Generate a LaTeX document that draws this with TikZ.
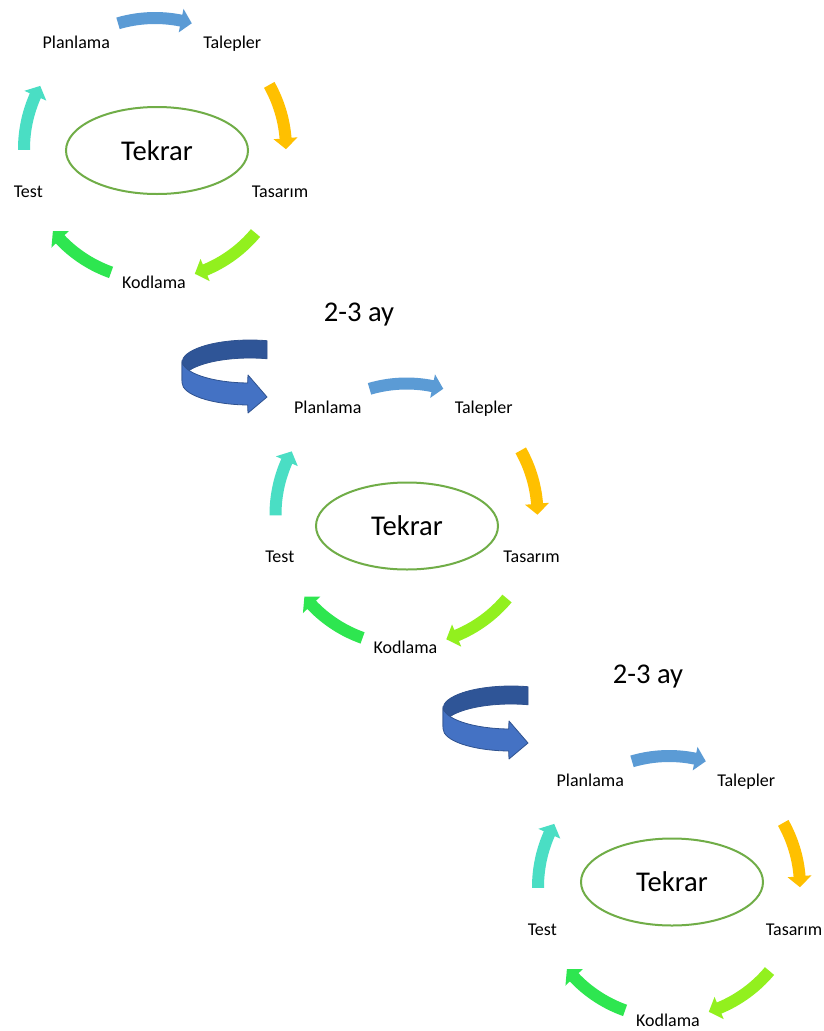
\documentclass[tikz,border=0pt]{standalone}
\usepackage{fontspec}
\setmainfont{Carlito}
\usetikzlibrary{shapes.geometric}

\definecolor{stepblue}{HTML}{5B9BD5}
\definecolor{steporange}{HTML}{FFC000}
\definecolor{steplime}{HTML}{92F01E}
\definecolor{stepgreen}{HTML}{2EE650}
\definecolor{stepteal}{HTML}{4ADEC4}
\definecolor{loopgreen}{HTML}{70AD47}
\definecolor{turnback}{HTML}{2F5597}
\definecolor{turnfront}{HTML}{4472C4}
\definecolor{turnline}{HTML}{2F528F}

\tikzset{
  phase/.style={font=\fontsize{18bp}{20bp}\selectfont, anchor=base, inner sep=0pt},
  loop/.style={draw=loopgreen, line width=2bp, ellipse, minimum width=182bp,
    minimum height=87bp, inner sep=0pt, font=\fontsize{28.6bp}{32bp}\selectfont},
  period/.style={font=\fontsize{28.6bp}{32bp}\selectfont, anchor=base, inner sep=0pt},
  turn/.style={draw=turnline, line width=0.8bp, line join=round},
}

% clockwise block arc on a ring of radius 131bp: tail angle, tip angle, colour
\newcommand{\ringarrow}[3]{%
  \pgfmathsetmacro\headbase{#2+4.8}
  \fill[#3] (#1:137bp) arc[start angle=#1, end angle=\headbase, radius=137bp]
    -- (\headbase:143bp) -- (#2:131bp) -- (\headbase:119bp) -- (\headbase:125bp)
    arc[start angle=\headbase, end angle=#1, radius=125bp] -- cycle;
}

% one development cycle: suffix, shift x, shift y, ellipse centre x, y
\newcommand{\devcycle}[5]{%
  \begin{scope}[shift={(#2,-#3)}]
    \begin{scope}[shift={(155,-149)}]
      \ringarrow{106.4}{73.7}{stepblue}
      \ringarrow{29.3}{-0.1}{steporange}
      \ringarrow{-39.9}{-72.3}{steplime}
      \ringarrow{-109.6}{-141.2}{stepgreen}
      \ringarrow{180.4}{151.2}{stepteal}
    \end{scope}
    \node[phase] (plan#1) at (76.3,-48.3) {Planlama};
    \node[phase] (req#1)  at (232.2,-48.3) {Talepler};
    \node[phase] (des#1)  at (280,-197) {Tasarım};
    \node[phase] (code#1) at (154,-288) {Kodlama};
    \node[phase] (test#1) at (28.3,-197) {Test};
  \end{scope}
  \node[loop] (loop#1) at (#4,-#5) {Tekrar};
}

% U-turn ribbon arrow around the centre of its middle line
\newcommand{\uturn}[2]{%
  \begin{scope}[shift={(#1,-#2)}]
    \filldraw[turn, fill=turnback] (17.03,30.78)
      arc[start angle=75.5, end angle=180, x radius=68bp, y radius=22.5bp]
      -- (-68,-9)
      arc[start angle=180, end angle=75.5, x radius=68bp, y radius=22.5bp]
      -- cycle;
    \filldraw[turn, fill=turnfront] (-68,11)
      arc[start angle=180, end angle=268, x radius=68bp, y radius=22.5bp]
      -- (-2,-3.5) -- (17,-25.5) -- (-2,-41.5) -- (-2.37,-33.49)
      arc[start angle=268, end angle=180, x radius=68bp, y radius=22.5bp]
      -- cycle;
  \end{scope}
}

\begin{document}
\begin{tikzpicture}[x=1bp, y=1bp]
  \fill[white] (0,0) rectangle (824,-1031);
  \useasboundingbox (0,0) rectangle (824,-1031);

  \devcycle{1}{0}{0}{157}{150.5}
  \devcycle{2}{251.5}{365.5}{407}{526}
  \devcycle{3}{514}{738}{672}{882}

  \node[period] (gap1) at (359,-321) {2-3 ay};
  \node[period] (gap2) at (648,-683) {2-3 ay};

  \uturn{250}{371.5}
  \uturn{511}{717.5}
\end{tikzpicture}
\end{document}
